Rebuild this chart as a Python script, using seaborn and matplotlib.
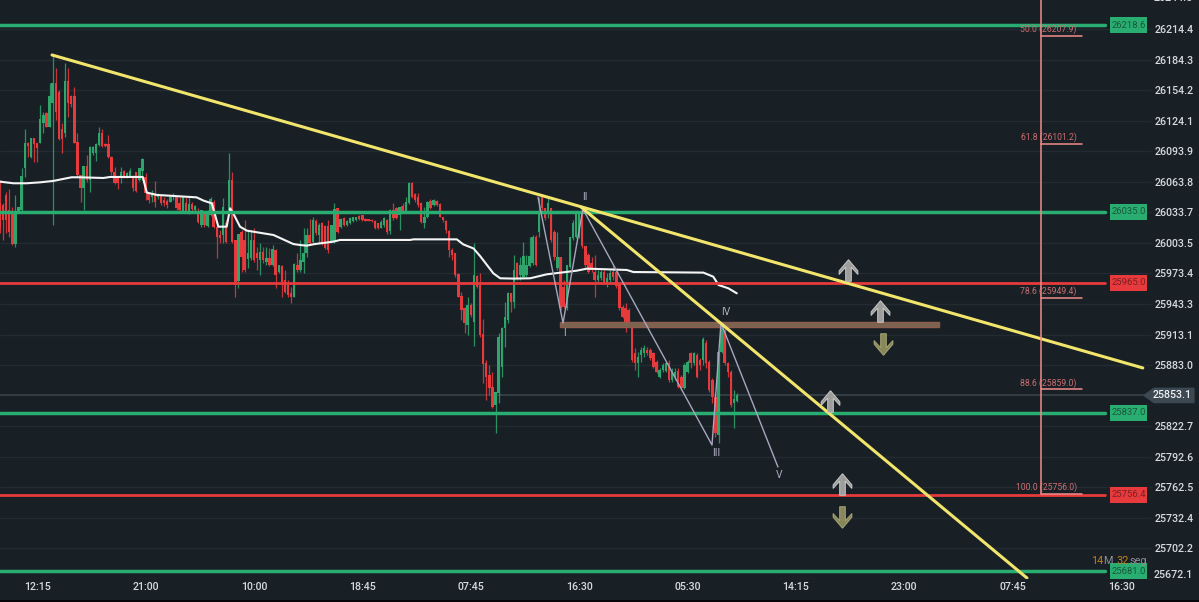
import matplotlib
matplotlib.use('Agg')
import matplotlib.pyplot as plt
import matplotlib.patches as mpatches
from matplotlib.path import Path
import numpy as np
import pandas as pd
import seaborn as sns

# Candles, 15 minute bars, prices
opens = [26042.5, 26040.9, 26050.8, 26036.0, 26032.7, 26002.4, 26035.3, 26036.0, 26077.0, 26101.7,
         26087.9, 26106.6, 26101.7, 26101.7, 26122.1, 26131.3, 26118.1, 26141.8, 26161.5, 26152.6,
         26115.5, 26112.2, 26163.5, 26148.4, 26148.4, 26103.3, 26070.5, 26057.3, 26079.4, 26065.5,
         26091.8, 26091.8, 26100.1, 26111.6, 26101.0, 26101.0, 26088.6, 26073.8, 26068.8, 26067.2,
         26074.7, 26068.2, 26068.8, 26068.8, 26073.8, 26065.5, 26074.7, 26068.8, 26052.4, 26049.1,
         26052.4, 26049.1, 26049.8, 26045.8, 26045.2, 26044.2, 26048.4, 26048.4, 26042.5, 26035.3,
         26042.5, 26032.7, 26041.9, 26035.9, 26033.3, 26021.2, 26032.7, 26020.2, 26031.0, 26044.2,
         26019.5, 26011.3, 26011.3, 26022.8, 26035.9, 26065.5, 26006.4, 25966.3, 26014.6, 26006.4,
         25987.3, 25988.3, 26006.4, 25993.2, 25986.7, 25994.9, 25985.0, 25988.3, 25981.7, 25996.5,
         25975.2, 25981.1, 25966.9, 25962.0, 25954.4, 25950.5, 25981.7, 25976.8, 25985.0, 25993.2,
         26011.3, 26004.7, 26025.4, 26011.3, 26022.8, 26020.2, 26020.2, 26004.7, 26004.7, 26037.6,
         26019.5, 26027.7, 26021.2, 26023.5, 26025.4, 26026.1, 26030.0, 26031.0, 26027.4, 26026.8,
         26026.1, 26025.4, 26022.8, 26018.2, 26021.2, 26026.1, 26015.6, 26036.0, 26037.6, 26031.0,
         26039.9, 26034.3, 26042.5, 26062.9, 26051.7, 26048.4, 26043.2, 26023.5, 26029.4, 26045.2,
         26040.9, 26045.2, 26041.9, 26028.7, 26025.4, 26015.6, 25996.5, 25993.2, 25972.9, 25951.2,
         25939.0, 25922.6, 25942.3, 25925.8, 25970.9, 25962.0, 25913.7, 25885.4, 25873.3, 25861.7,
         25843.7, 25855.2, 25881.5, 25919.3, 25927.5, 25953.8, 25945.6, 25983.4, 25971.9, 25970.2,
         25971.9, 25980.7, 25983.4, 26009.0, 26014.6, 26049.1, 26037.6, 26032.7, 26037.6, 26014.6,
         25978.4, 25989.9, 25960.4, 25939.0, 25980.1, 26008.0, 26009.7, 26009.7, 26034.3, 26000.0,
         25991.6, 25983.4, 25975.2, 25966.9, 25968.6, 25975.2, 25963.6, 25966.9, 25975.2, 25975.2,
         25963.6, 25940.6, 25939.0, 25937.3, 25924.2, 25894.6, 25884.7, 25892.9, 25894.6, 25897.9,
         25897.9, 25894.6, 25886.4, 25871.6, 25878.2, 25877.5, 25884.7, 25868.3, 25871.6, 25877.5,
         25871.6, 25860.1, 25876.5, 25894.6, 25884.7, 25892.9, 25888.0, 25888.0, 25905.2, 25886.4,
         25868.3, 25851.9, 25814.1, 25896.3, 25917.6, 25885.4, 25876.5, 25846.0, 25847.9]
highs = [26065.5, 26042.5, 26054.0, 26056.3, 26039.2, 26050.8, 26039.2, 26077.0, 26115.5, 26103.3,
         26106.6, 26106.6, 26102.4, 26139.5, 26132.9, 26132.9, 26160.9, 26189.8, 26175.7, 26154.3,
         26121.4, 26180.6, 26175.7, 26149.4, 26157.6, 26111.6, 26070.5, 26079.4, 26090.2, 26099.1,
         26099.1, 26101.7, 26117.5, 26115.5, 26101.7, 26109.9, 26089.2, 26078.7, 26069.5, 26078.7,
         26075.4, 26073.8, 26077.4, 26070.5, 26073.8, 26077.0, 26086.9, 26072.1, 26054.0, 26055.7,
         26064.9, 26052.4, 26050.8, 26049.1, 26046.5, 26050.8, 26052.4, 26049.1, 26049.1, 26049.1,
         26049.1, 26049.1, 26044.2, 26040.9, 26037.6, 26035.9, 26034.3, 26035.9, 26049.1, 26045.8,
         26021.2, 26016.2, 26047.5, 26026.1, 26092.5, 26073.8, 26006.4, 26012.3, 26016.2, 26026.1,
         26016.2, 26016.2, 26017.9, 25999.8, 26003.1, 25999.8, 25999.8, 25998.2, 26001.4, 25997.2,
         25981.7, 25981.7, 25976.8, 25966.9, 25960.4, 25983.4, 25993.2, 26006.4, 26017.9, 26017.9,
         26026.8, 26029.4, 26026.8, 26023.5, 26024.5, 26021.2, 26026.1, 26021.2, 26043.2, 26037.6,
         26027.7, 26028.7, 26026.1, 26028.7, 26029.4, 26029.4, 26031.0, 26031.0, 26027.7, 26027.4,
         26026.8, 26026.1, 26023.5, 26026.1, 26028.7, 26026.8, 26036.6, 26043.2, 26039.2, 26039.2,
         26043.2, 26049.1, 26063.9, 26063.9, 26052.4, 26052.4, 26044.2, 26039.2, 26045.2, 26046.5,
         26046.5, 26045.8, 26042.5, 26029.4, 26026.1, 26016.2, 25998.2, 25993.9, 25973.5, 25955.4,
         25940.6, 25950.5, 25943.9, 26003.7, 25971.9, 25973.5, 25928.1, 25888.0, 25883.1, 25876.5,
         25856.8, 25914.3, 25920.9, 25945.6, 25955.4, 25953.8, 25991.6, 25985.0, 25989.9, 26004.7,
         25991.6, 26009.7, 26011.3, 26011.3, 26049.1, 26049.8, 26037.6, 26047.5, 26037.6, 26016.2,
         26014.6, 25989.9, 25966.9, 25981.7, 26009.7, 26026.1, 26032.7, 26034.3, 26034.3, 26000.0,
         25993.2, 25989.9, 25991.6, 25976.8, 25976.8, 25976.8, 25973.5, 25976.8, 25981.7, 25976.8,
         25965.3, 25942.3, 25943.9, 25939.0, 25924.2, 25899.5, 25896.3, 25901.2, 25902.8, 25901.2,
         25899.5, 25896.3, 25888.0, 25879.8, 25884.7, 25886.4, 25888.0, 25879.8, 25879.8, 25879.8,
         25873.3, 25884.7, 25888.0, 25896.3, 25896.3, 25894.6, 25889.7, 25911.0, 25907.8, 25888.0,
         25870.0, 25855.2, 25897.9, 25924.2, 25920.9, 25886.4, 25878.2, 25858.5, 25855.2]
lows = [26012.9, 26006.4, 26012.9, 26009.7, 26001.4, 25999.8, 26034.6, 26035.3, 26068.8, 26088.6,
        26087.2, 26083.6, 26083.6, 26101.7, 26111.6, 26117.5, 26117.5, 26021.2, 26124.7, 26105.0,
        26091.8, 26108.3, 26128.0, 26137.9, 26101.7, 26068.8, 26044.2, 26036.0, 26063.9, 26054.0,
        26090.2, 26084.6, 26099.1, 26098.4, 26097.8, 26086.9, 26070.5, 26061.6, 26056.3, 26062.3,
        26067.2, 26067.2, 26068.2, 26055.0, 26054.0, 26064.9, 26065.5, 26045.8, 26042.5, 26044.2,
        26039.2, 26046.5, 26040.9, 26039.9, 26037.6, 26044.2, 26045.8, 26036.0, 26035.3, 26032.7,
        26032.7, 26032.0, 26034.3, 26034.3, 26022.8, 26019.5, 26019.5, 26019.5, 26030.0, 26017.9,
        25988.3, 26003.1, 26003.1, 26003.1, 26032.7, 26003.1, 25950.5, 25958.7, 25975.2, 25975.2,
        25978.4, 25986.7, 25985.0, 25976.8, 25971.9, 25983.4, 25981.7, 25980.7, 25980.7, 25958.7,
        25973.5, 25950.5, 25953.8, 25950.5, 25943.9, 25949.9, 25975.2, 25975.2, 25974.2, 25989.9,
        26001.4, 26003.1, 26011.3, 26003.1, 26001.4, 25997.2, 25993.2, 26003.1, 26003.7, 26013.6,
        26017.9, 26020.2, 26020.2, 26022.2, 26024.5, 26025.4, 26026.1, 26025.4, 26024.8, 26024.8,
        26024.5, 26016.9, 26017.6, 26017.9, 26019.5, 26012.3, 26012.3, 26026.1, 26026.8, 26016.2,
        26032.7, 26033.3, 26041.9, 26047.5, 26044.2, 26039.2, 26022.8, 26017.9, 26027.7, 26036.6,
        26039.9, 26039.9, 26028.7, 26024.5, 26013.6, 25989.9, 25986.7, 25970.2, 25949.9, 25927.5,
        25915.0, 25912.7, 25930.8, 25901.9, 25958.7, 25911.0, 25865.0, 25848.6, 25853.5, 25840.4,
        25815.7, 25845.3, 25871.6, 25901.2, 25924.2, 25935.7, 25939.0, 25966.9, 25966.9, 25968.6,
        25970.2, 25979.4, 25981.7, 25980.7, 26009.7, 26036.0, 26026.1, 26027.7, 26004.7, 25986.7,
        25976.8, 25937.3, 25939.0, 25937.3, 25978.4, 26006.4, 26008.0, 26008.0, 25998.2, 25980.1,
        25973.5, 25975.2, 25950.5, 25965.3, 25966.9, 25963.6, 25960.4, 25965.3, 25966.9, 25958.7,
        25937.3, 25929.1, 25916.0, 25922.6, 25886.4, 25878.2, 25871.6, 25886.4, 25891.3, 25892.9,
        25888.0, 25879.8, 25874.9, 25870.0, 25876.5, 25876.5, 25866.7, 25866.7, 25868.3, 25860.1,
        25858.5, 25859.1, 25874.9, 25879.8, 25883.1, 25870.0, 25878.2, 25883.1, 25879.8, 25856.8,
        25845.3, 25812.4, 25805.9, 25894.6, 25883.1, 25871.6, 25842.0, 25820.7, 25846.9]
closes = [26017.9, 26026.1, 26026.1, 26014.6, 26002.4, 26035.3, 26039.2, 26069.5, 26101.7, 26099.1,
          26106.6, 26101.0, 26096.8, 26125.4, 26129.6, 26118.1, 26148.4, 26161.5, 26132.9, 26105.6,
          26105.6, 26163.5, 26141.1, 26140.5, 26101.7, 26070.5, 26057.3, 26079.4, 26065.5, 26098.4,
          26098.4, 26101.0, 26111.6, 26099.1, 26099.1, 26087.9, 26073.8, 26062.3, 26062.3, 26073.8,
          26068.2, 26072.8, 26074.7, 26057.3, 26055.0, 26077.0, 26085.9, 26052.4, 26045.8, 26051.7,
          26044.2, 26051.7, 26042.5, 26042.5, 26040.9, 26049.1, 26050.8, 26037.6, 26036.0, 26048.4,
          26035.3, 26041.9, 26036.6, 26039.9, 26024.5, 26035.9, 26021.2, 26032.7, 26046.5, 26019.5,
          26009.7, 26008.0, 26039.2, 26004.7, 26065.5, 26004.7, 25965.3, 26012.3, 25989.9, 25976.8,
          25993.2, 26006.4, 25986.7, 25988.3, 25994.9, 25986.7, 25988.3, 25981.7, 25997.2, 25971.9,
          25981.7, 25965.3, 25955.4, 25952.1, 25950.5, 25982.7, 25976.8, 25986.7, 25993.2, 26011.3,
          26003.1, 26026.1, 26012.9, 26021.2, 26003.1, 25998.2, 25996.5, 26021.2, 26036.6, 26014.6,
          26026.8, 26021.2, 26025.4, 26027.7, 26028.7, 26029.4, 26026.8, 26026.1, 26025.1, 26025.1,
          26024.8, 26017.9, 26018.2, 26024.5, 26027.7, 26014.6, 26036.0, 26027.7, 26027.7, 26038.6,
          26034.3, 26044.2, 26062.9, 26048.4, 26045.8, 26040.9, 26024.5, 26029.4, 26044.2, 26037.6,
          26045.8, 26040.9, 26029.4, 26026.1, 26016.2, 25996.5, 25991.6, 25971.9, 25950.5, 25937.3,
          25924.2, 25942.3, 25932.4, 25971.9, 25960.4, 25912.7, 25884.1, 25871.6, 25860.1, 25842.0,
          25856.8, 25911.0, 25919.3, 25930.8, 25954.4, 25945.6, 25976.8, 25968.6, 25981.7, 25990.6,
          25981.7, 25990.6, 26009.0, 25981.7, 26034.3, 26037.6, 26027.7, 26042.5, 26006.4, 25989.9,
          25989.9, 25939.0, 25940.6, 25981.7, 26009.7, 26022.8, 26032.7, 26034.3, 26000.0, 25981.7,
          25975.2, 25976.8, 25966.9, 25971.9, 25975.2, 25965.3, 25968.6, 25973.5, 25970.2, 25961.0,
          25939.0, 25930.8, 25924.2, 25924.2, 25888.0, 25884.7, 25891.3, 25897.9, 25899.5, 25894.6,
          25889.7, 25881.5, 25876.5, 25878.2, 25883.1, 25884.7, 25868.3, 25876.5, 25876.5, 25861.7,
          25860.1, 25883.1, 25886.4, 25884.7, 25894.6, 25871.6, 25883.1, 25908.4, 25884.7, 25858.5,
          25851.9, 25815.7, 25896.3, 25924.2, 25884.7, 25876.5, 25843.7, 25849.3, 25853.5]

# White average line
avg_idx = [0, 4.3, 8.6, 12.9, 17.2, 23.1, 25.8, 33.4, 35.5, 46.1, 47.4, 50.6, 63.5, 65.7, 68.4, 70.5,
           73.2, 74.3, 75.3, 77.5, 79.7, 88.3, 94.7, 96.9, 99, 101.7, 107.6, 109.8, 132.4, 133.5, 147.5,
           149.6, 152.9, 155, 159.3, 161.5, 165.8, 171.2, 176.5, 186.2, 189.5, 202.4, 204.5, 227.1, 230.3,
           232, 235.2, 237.9]
avg_price = [26063.9, 26062.3, 26062.3, 26063.2, 26064.6, 26068.2, 26068.2, 26067.5, 26068.5, 26068.5,
             26053.1, 26050.8, 26048.4, 26045.2, 26042.5, 26019.5, 26019.5, 26037.6, 26032.7, 26019.5,
             26015.6, 26011.3, 26002.4, 26001.4, 26000.8, 26002.4, 26004.7, 26006.4, 26006.4, 26007,
             26007, 26002, 25998, 25990.6, 25973.5, 25968.6, 25968.3, 25968.6, 25972.5, 25976.1,
             25978.1, 25976.8, 25974.8, 25974.2, 25970.2, 25962, 25958.7, 25953.8]

# Horizontal levels: price where the line sits, and the text on its tag
level_prices = [26217.9, 26034.3, 25964.3, 25836.0, 25755.2, 25679.8]
level_labels = ['26218.6', '26035.0', '25965.0', '25837.0', '25756.4', '25681.0']
level_kinds = ['g', 'g', 'r', 'g', 'r', 'g']

# Trend lines
trend_a_idx = [16.8, 369.0]
trend_a_price = [26188.8, 25880.2]
trend_b_idx = [187.6, 331.6]
trend_b_price = [26038.9, 25673.1]

# Wave drawing
wave_idx = [173.7, 181.8, 188.2, 229.9, 232.8, 251.2]
wave_price = [26048.6, 25924.5, 26036.9, 25804.2, 25924.5, 25782.5]
wave_names = ['I', 'II', 'III', 'IV', 'V']
wave_name_idx = [182.4, 188.9, 231.2, 234.4, 251.5]
wave_name_price = [25914.6, 26048.8, 25796.4, 25935.4, 25774.6]

# Fibonacci
fib_idx = 336.0
fib_idx_end = 349.3
fib_prices = [26207.9, 26101.2, 25949.4, 25859.0, 25756.0]
fib_labels = ['50.0 (26207.9)', '61.8 (26101.2)', '78.6 (25949.4)', '88.6 (25859.0)', '100.0 (25756.0)']

# Arrows
up_idx = [273.8, 284.1, 268.0, 272.0]
up_price = [25977.0, 25936.5, 25848.0, 25766.0]
down_idx = [285.1, 272.0]
down_price = [25904.0, 25733.5]

y_ticks = [26214.4, 26184.3, 26154.2, 26124.1, 26093.9, 26063.8, 26033.7, 26003.5, 25973.4, 25943.3,
           25913.1, 25883.0, 25822.7, 25792.6, 25762.5, 25732.4, 25702.2, 25672.1]
x_ticks = [12, 47, 82, 117, 152, 187, 222, 257, 292, 327, 362]
x_labels = ['12:15', '21:00', '10:00', '18:45', '07:45', '16:30', '05:30', '14:15', '23:00', '07:45', '16:30']
last_price = 25853.1

BG = '#182026'
GREEN = '#2fa56c'
RED = '#e63a3c'
LEVEL_GREEN = '#2aad70'
YELLOW = '#f2e56b'
GRID = '#232b32'
TXT = '#d6d9dd'

sns.set_theme(style='dark', rc={'figure.facecolor': BG, 'axes.facecolor': BG, 'savefig.facecolor': BG})
plt.rcParams['font.family'] = ['Roboto', 'DejaVu Sans']

fig = plt.figure(figsize=(11.99, 6.02), dpi=100)
ax = fig.add_axes([0, 23 / 602, 1149 / 1199, 579 / 602])
ax.set_xlim(0, 371)
ax.set_ylim(25672.1, 26243)
for s in ax.spines.values():
    s.set_visible(False)

ax.yaxis.tick_right()
ax.set_yticks(y_ticks)
labels = [f'{v:.1f}' for v in y_ticks]
labels[-1] = ''  # the lowest label sits a bit higher than its tick, drawn below
ax.set_yticklabels(labels, fontsize=7.7, color=TXT, fontweight='medium')
ax.tick_params(axis='y', length=2.5, width=1, color=GRID, pad=1.2, left=False, right=True)
ax.grid(True, axis='y', color=GRID, linewidth=1.0)
ax.set_xticks(x_ticks)
ax.set_xticklabels(x_labels, fontsize=7.7, color=TXT, fontweight='medium')
ax.tick_params(axis='x', length=0, pad=2)
ax.set_axisbelow(True)

# last price line
ax.axhline(last_price, color='#37424a', linewidth=1.2, zorder=1)

# candles
df = pd.DataFrame({'o': opens, 'h': highs, 'l': lows, 'c': closes})
df['i'] = np.arange(len(df))
df['col'] = np.where(df['c'] >= df['o'], GREEN, RED)
ax.vlines(df['i'], df['l'], df['h'], colors=df['col'], linewidth=0.9, alpha=0.85, zorder=2)
ax.bar(df['i'], (df['c'] - df['o']).abs(), bottom=df[['o', 'c']].min(axis=1), width=0.78,
       color=df['col'], linewidth=0, zorder=3)

sns.lineplot(x=avg_idx, y=avg_price, ax=ax, color='#f4f4f4', linewidth=1.5, zorder=4, sort=False)

# levels and their tags
for p, lab, k in zip(level_prices, level_labels, level_kinds):
    col = LEVEL_GREEN if k == 'g' else RED
    ax.axhline(p, color=col, linewidth=2.5 if k == 'g' else 2.0, zorder=5, xmax=1105 / 1149)
    ax.add_patch(mpatches.Rectangle((358.4, p - 7.9), 12.1, 15.8, facecolor=col, edgecolor='none', zorder=6))
    ax.text(364.4, p, lab, fontsize=6.8, color='#17583c' if k == 'g' else '#7c1f22', ha='center', va='center', zorder=7)

# brown zone
ax.add_patch(mpatches.Rectangle((180.8, 25920.6), 122.4, 4.9, facecolor='#7a6450', edgecolor='#8f5c50',
                                linewidth=1, zorder=6))

# wave
sns.lineplot(x=wave_idx, y=wave_price, ax=ax, color='#a7a6bd', linewidth=1, zorder=6, sort=False)
for x, y, s in zip(wave_name_idx, wave_name_price, wave_names):
    ax.text(x, y, s, fontsize=7.4, color='#b0afc4', ha='center', va='center', zorder=7)

# trend lines
sns.lineplot(x=trend_a_idx, y=trend_a_price, ax=ax, color=YELLOW, linewidth=2.2, zorder=8)
sns.lineplot(x=trend_b_idx, y=trend_b_price, ax=ax, color=YELLOW, linewidth=2.2, zorder=8)

# fibonacci
ax.plot([fib_idx, fib_idx], [fib_prices[-1], 26243], color='#f18c8a', linewidth=1.1, zorder=9)
for p, s in zip(fib_prices, fib_labels):
    ax.plot([fib_idx, fib_idx_end], [p, p], color='#f18c8a', linewidth=1.1, zorder=9)
    ax.text(347.7, p + 6.4, s, fontsize=6.2, color='#cc6e70', ha='right', va='center', zorder=8)

# arrows as a custom marker
arrow_up = Path([(0, 1), (0.87, -0.03), (0.87, -0.36), (0.26, 0.3), (0.26, -1), (-0.26, -1),
                 (-0.26, 0.3), (-0.87, -0.36), (-0.87, -0.03), (0, 1)])
arrow_down = Path(arrow_up.vertices * [1, -1])
ax.plot(up_idx, up_price, ls='', marker=arrow_up, ms=15.5, mfc='#9d9d9b', mec='#c9c9c7', mew=0.7, zorder=10)
ax.plot(down_idx, down_price, ls='', marker=arrow_down, ms=15.5, mfc='#87875a', mec='#a6a672', mew=0.7, zorder=10)

# right panel pieces that sit outside the axes
ax.text(1.0044, 26244.5, '26244.5', transform=ax.get_yaxis_transform(), fontsize=7.7, color=TXT, va='center',
        ha='left', clip_on=False, fontweight='medium')
ax.text(1.0044, 25676.0, f'{y_ticks[-1]:.1f}', transform=ax.get_yaxis_transform(), fontsize=7.7, color=TXT,
        va='center', ha='left', clip_on=False, fontweight='medium')
tag_x = [369.4, 372.6, 385.5, 385.5, 372.6, 369.4]
tag_y = [last_price, last_price + 7, last_price + 7, last_price - 7, last_price - 7, last_price]
ax.fill(tag_x, tag_y, color='#3c4852', clip_on=False, zorder=11)
ax.text(378.4, last_price, f'{last_price:.1f}', fontsize=7.7, color='#f0f2f4', ha='center', va='center',
        clip_on=False, zorder=12, fontweight='medium')

# countdown
for x, s, c in [(352.3, '14', '#c47f1a'), (356.3, 'M', '#8d9094'), (360.4, '32', '#c47f1a'), (364.6, 'seg', '#8d9094')]:
    ax.text(x, 25689.5, s, fontsize=7.8, color=c, ha='left', va='center', zorder=12)

# black strip along the bottom edge
fig.add_artist(mpatches.Rectangle((0, 0), 1, 2 / 602, transform=fig.transFigure, facecolor='#05070a', edgecolor='none'))

fig.savefig('out.png', dpi=100, facecolor=BG)
